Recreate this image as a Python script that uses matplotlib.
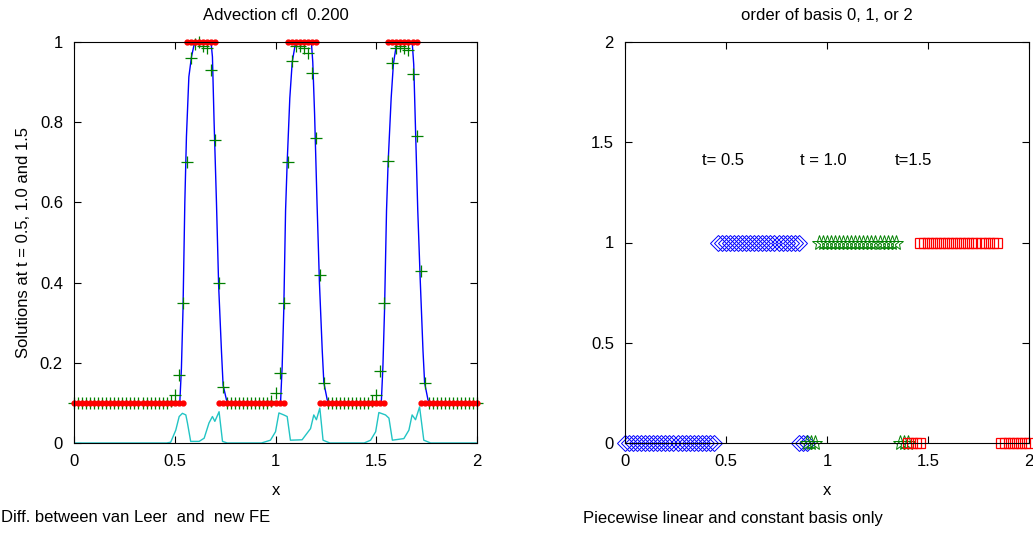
import numpy as np
import matplotlib
matplotlib.use("Agg")
import matplotlib.pyplot as plt

plt.rcParams['font.family'] = ['Liberation Sans', 'DejaVu Sans']
plt.rcParams['font.size'] = 12

# left panel: grid of the FE solution (step 0.02)
grid_x = np.linspace(0, 2, 101)

# exact solution (red dots): 0.1 with three pulses of height 1
exact_y = ([0.1] * 28 + [1.0] * 8 + [0.1] * 17 + [1.0] * 8 +
           [0.1] * 17 + [1.0] * 8 + [0.1] * 15)

# new FE solution (green +)
fe_y = ([0.1] * 24 +
        [0.105, 0.12, 0.17, 0.35, 0.70, 0.96, 0.995, 1.0, 0.99, 0.985,
         0.93, 0.755, 0.40, 0.14] +
        [0.1] * 11 +
        [0.105, 0.125, 0.175, 0.35, 0.70, 0.952, 0.99, 0.99, 0.985, 0.973,
         0.923, 0.76, 0.42, 0.15] +
        [0.1] * 11 +
        [0.105, 0.12, 0.18, 0.35, 0.703, 0.948, 0.985, 0.99, 0.985, 0.98,
         0.92, 0.765, 0.43, 0.15] +
        [0.1] * 13)

# van Leer solution (blue line)
vl_x = [0.0,
        0.525, 0.533, 0.541, 0.550, 0.558, 0.570, 0.583, 0.599, 0.680,
        0.687, 0.695, 0.707, 0.718, 0.732, 0.740, 0.757, 0.773,
        1.025, 1.033, 1.041, 1.050, 1.058, 1.071, 1.083, 1.100, 1.178,
        1.185, 1.194, 1.206, 1.218, 1.232, 1.240, 1.257, 1.273,
        1.525, 1.533, 1.541, 1.551, 1.559, 1.574, 1.585, 1.602, 1.679,
        1.686, 1.695, 1.706, 1.718, 1.732, 1.740, 1.757, 1.773,
        2.0]
vl_y = [0.1,
        0.10, 0.185, 0.334, 0.60, 0.764, 0.913, 0.963, 1.0, 1.0,
        0.963, 0.805, 0.60, 0.39, 0.227, 0.144, 0.107, 0.1,
        0.1, 0.19, 0.33, 0.58, 0.70, 0.86, 0.95, 1.0, 1.0,
        0.95, 0.82, 0.60, 0.40, 0.23, 0.15, 0.107, 0.1,
        0.1, 0.19, 0.33, 0.58, 0.70, 0.86, 0.945, 1.0, 0.995,
        0.944, 0.78, 0.58, 0.41, 0.23, 0.15, 0.107, 0.1,
        0.1]

# difference between van Leer and new FE (cyan)
diff_x = [0.0, 0.46, 0.48, 0.505, 0.522, 0.538, 0.555, 0.563, 0.579, 0.621,
          0.646, 0.670, 0.687, 0.699, 0.720, 0.737, 0.761,
          0.93, 0.975, 1.0, 1.017, 1.041, 1.058, 1.074, 1.132, 1.174,
          1.19, 1.203, 1.22, 1.236, 1.27,
          1.44, 1.472, 1.497, 1.513, 1.546, 1.563, 1.58, 1.637, 1.662,
          1.678, 1.695, 1.715, 1.736, 1.77, 2.0]
diff_y = [0, 0, 0.002, 0.032, 0.066, 0.074, 0.07, 0.05, 0.004, 0.004,
          0.012, 0.05, 0.066, 0.054, 0.078, 0.004, 0,
          0, 0.007, 0.028, 0.075, 0.07, 0.066, 0.007, 0.008, 0.036,
          0.07, 0.058, 0.087, 0.007, 0,
          0, 0.007, 0.028, 0.076, 0.07, 0.062, 0.007, 0.011, 0.032,
          0.07, 0.058, 0.09, 0.007, 0, 0]

# right panel: cell ranges (start, stop) per basis order, step 0.02
t05_order1 = [(0.46, 0.86)]
t05_order0 = [(0.0, 0.44), (0.86, 0.90)]
t10_order1 = [(0.96, 1.34)]
t10_order0 = [(0.90, 0.94), (1.36, 1.40)]
t15_order1 = [(1.46, 1.84)]
t15_order0 = [(1.40, 1.46), (1.86, 2.0)]

time_labels = ['t= 0.5', 't = 1.0', 't=1.5']
time_label_x = [0.38, 0.865, 1.335]


def cells(ranges):
    out = []
    for a, b in ranges:
        out.extend(np.round(np.arange(a, b + 1e-9, 0.02), 2))
    return np.array(out)


def matlab_box(ax):
    ax.tick_params(direction='in', top=True, right=True, length=5,
                   width=0.8, pad=8, labelsize=12)
    for s in ax.spines.values():
        s.set_linewidth(0.8)


fig = plt.figure(figsize=(10.33, 5.59), dpi=100)
ax1 = fig.add_axes([74 / 1033, 1 - 443 / 559, 403 / 1033, 401 / 559])
ax2 = fig.add_axes([625 / 1033, 1 - 443 / 559, 404 / 1033, 401 / 559])

ax1.plot(diff_x, diff_y, color='#22c4c4', lw=1)
ax1.plot(vl_x, vl_y, color='blue', lw=1)
ax1.plot(grid_x, fe_y, '+', color='#008000', ms=8, mew=0.9, clip_on=False)
ax1.plot(grid_x, exact_y, '.', color='red', ms=7, clip_on=False)
ax1.set_xlim(0, 2)
ax1.set_ylim(0, 1)
ax1.set_xticks([0, 0.5, 1, 1.5, 2])
ax1.set_xticklabels(['0', '0.5', '1', '1.5', '2'])
ax1.set_yticks([0, 0.2, 0.4, 0.6, 0.8, 1])
ax1.set_yticklabels(['0', '0.2', '0.4', '0.6', '0.8', '1'])
ax1.set_xlabel('x', labelpad=10)
ax1.set_ylabel('Solutions at t = 0.5, 1.0 and 1.5', labelpad=6)
ax1.set_title('Advection cfl  0.200', fontsize=12, pad=16)
matlab_box(ax1)

marker_kw = dict(mfc='none', ls='none', clip_on=False)
ax2.plot(cells(t05_order1), np.ones(len(cells(t05_order1))), 'D',
         color='blue', mec='blue', ms=8, mew=0.7, **marker_kw)
ax2.plot(cells(t05_order0), np.zeros(len(cells(t05_order0))), 'D',
         color='blue', mec='blue', ms=8, mew=0.7, **marker_kw)
ax2.plot(cells(t10_order1), np.ones(len(cells(t10_order1))), '*',
         color='#008000', mec='#008000', ms=11, mew=0.7, **marker_kw)
ax2.plot(cells(t10_order0), np.zeros(len(cells(t10_order0))), '*',
         color='#008000', mec='#008000', ms=11, mew=0.7, **marker_kw)
ax2.plot(cells(t15_order1), np.ones(len(cells(t15_order1))), 's',
         color='red', mec='red', ms=7.6, mew=0.9, **marker_kw)
ax2.plot(cells(t15_order0), np.zeros(len(cells(t15_order0))), 's',
         color='red', mec='red', ms=7.6, mew=0.9, **marker_kw)
for lab, xpos in zip(time_labels, time_label_x):
    ax2.text(xpos, 1.41, lab, fontsize=12, va='center', ha='left')
ax2.set_xlim(0, 2)
ax2.set_ylim(0, 2)
ax2.set_xticks([0, 0.5, 1, 1.5, 2])
ax2.set_xticklabels(['0', '0.5', '1', '1.5', '2'])
ax2.set_yticks([0, 0.5, 1, 1.5, 2])
ax2.set_yticklabels(['0', '0.5', '1', '1.5', '2'])
ax2.set_xlabel('x', labelpad=10)
ax2.set_title('order of basis 0, 1, or 2', fontsize=12, pad=16)
matlab_box(ax2)

fig.text(0.001, 1 - 518 / 559, 'Diff. between van Leer  and  new FE',
         fontsize=12, va='center', ha='left')
fig.text(583 / 1033, 1 - 518 / 559, 'Piecewise linear and constant basis only',
         fontsize=12, va='center', ha='left')

fig.savefig('out.png', dpi=100)
